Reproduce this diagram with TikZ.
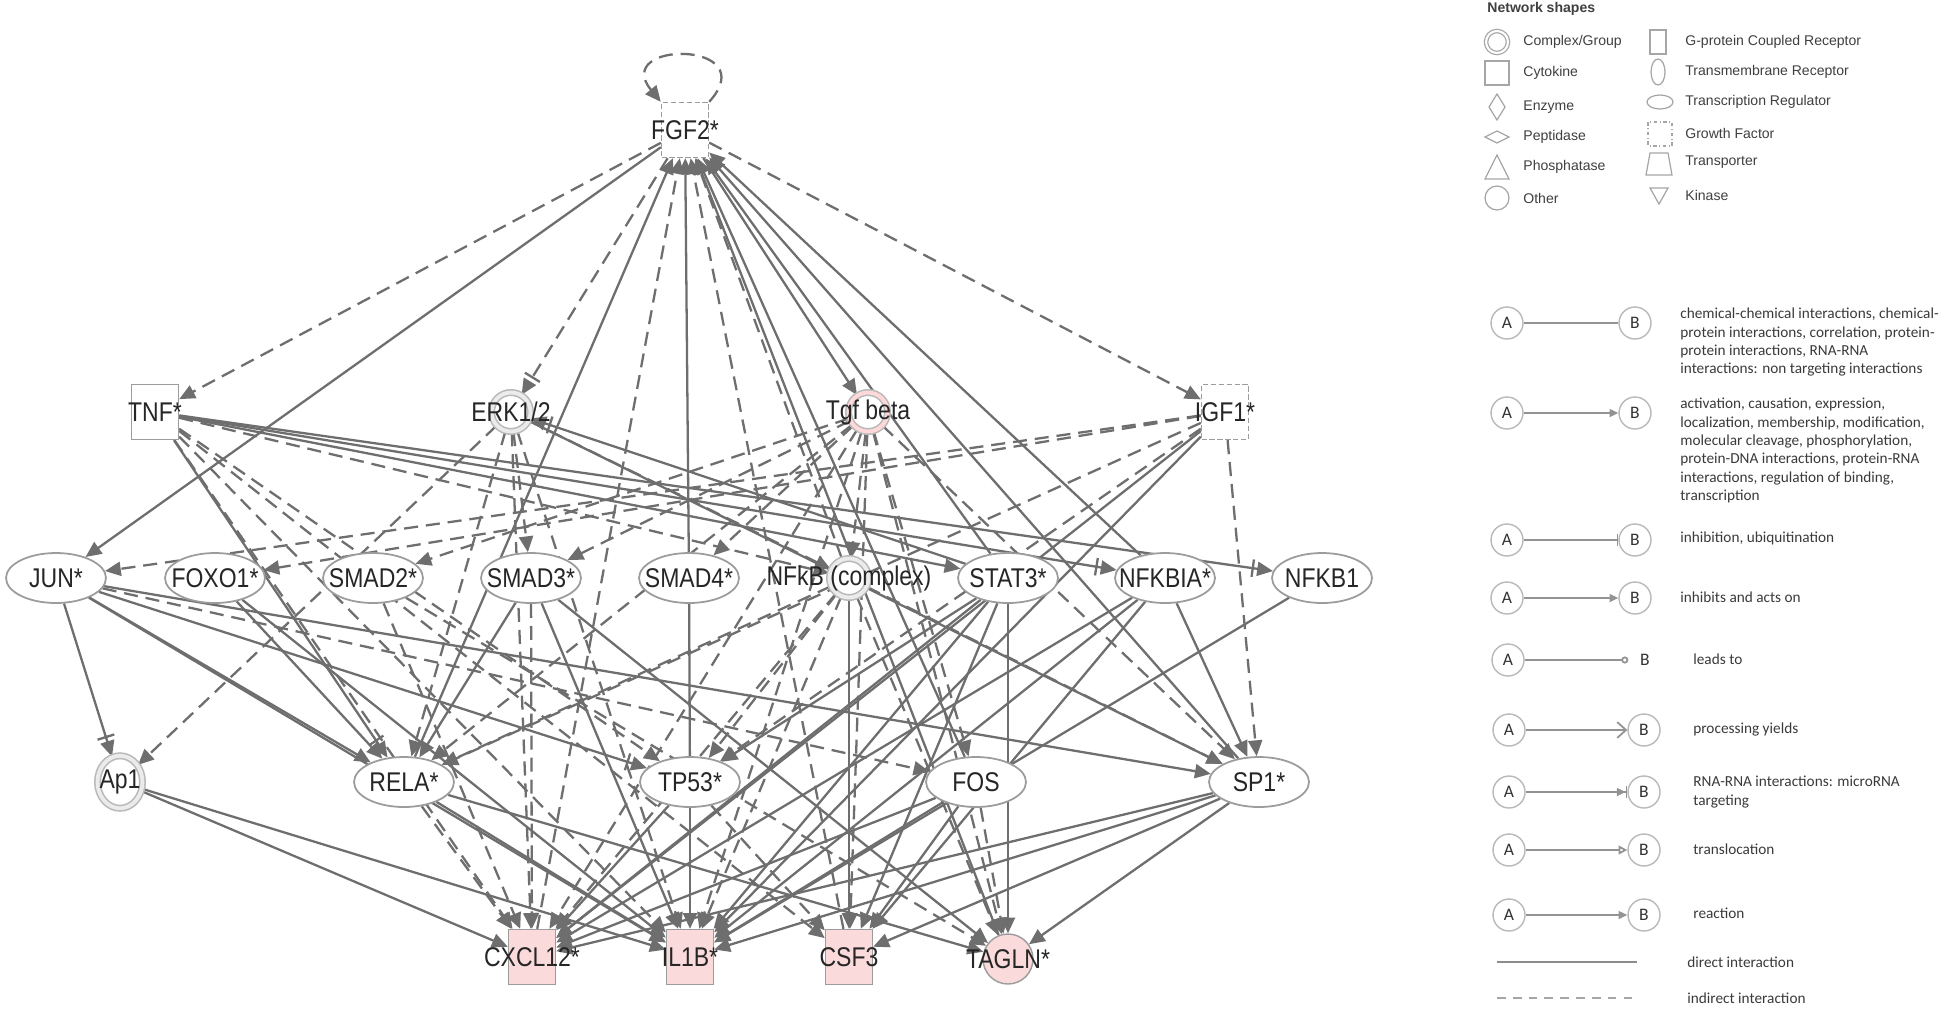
\documentclass[tikz,border=0pt]{standalone}
\usepackage{fontspec}
\setmainfont{Liberation Sans}
\newfontfamily\netfont[FakeStretch=0.85]{Liberation Sans}
\newfontfamily\legfont{Carlito}
\usetikzlibrary{arrows.meta,shapes.geometric}

\pgfdeclarelayer{bg}
\pgfdeclarelayer{edges}
\pgfsetlayers{bg,edges,main}

\definecolor{edgegray}{HTML}{6E6E6E}
\definecolor{nodegray}{HTML}{9C9C9C}
\definecolor{hitpink}{HTML}{FADADA}
\definecolor{legtext}{HTML}{3A3A3A}

\tikzset{
  direct/.style={draw=edgegray, line width=1.3pt},
  indirect/.style={direct, dash pattern=on 8pt off 4.5pt},
  act/.style={-{Triangle[length=9pt,width=8pt]}},
  inhact/.style={-{Bar[width=10pt,sep=2pt] Triangle[length=9pt,width=8pt]}},
  genetext/.style={font=\netfont\fontsize{15.4}{18}\selectfont, text=black!85, inner sep=0pt},
  gene/.style={label={[genetext]center:#1}},
  tf/.style={ellipse, draw=nodegray, line width=1pt, fill=white, minimum width=2cm, minimum height=1cm, inner sep=0pt},
  cytokine/.style={rectangle, draw=nodegray, line width=0.8pt, fill=white, minimum width=0.94cm, minimum height=1.1cm, inner sep=0pt},
  growth/.style={cytokine, dash pattern=on 3pt off 1.5pt},
  cplx/.style={circle, draw=gray!55, line width=0.9pt, double=black!8, double distance=2.2pt, fill=white, minimum size=0.78cm, inner sep=0pt},
  other/.style={circle, draw=nodegray, line width=0.8pt, minimum size=1cm, inner sep=0pt},
  legtxt/.style={font=\legfont\fontsize{8.7}{10.4}\selectfont, text=legtext, align=left, inner sep=0pt},
  shapetxt/.style={font=\fontsize{8}{9}\selectfont, text=black!75, anchor=west, inner sep=0pt},
  icon/.style={draw=gray!70, line width=0.7pt},
  abcirc/.style={circle, draw=gray!55, line width=0.8pt, minimum size=0.64cm, inner sep=0pt, font=\legfont\fontsize{10}{12}\selectfont, text=black!80},
  legline/.style={draw=gray!85, line width=1pt},
  smalltip/.style={-{Triangle[length=5pt,width=4.5pt]}}
}

\begin{document}
\begin{tikzpicture}[x=0.02cm, y=-0.02cm]
\begin{pgfonlayer}{bg}
  \fill[white] (0,0) rectangle (1946,1008);
\end{pgfonlayer}
\useasboundingbox (0,0) rectangle (1946,1008);

    % Top hub
    \node[growth, gene=FGF2*] (fgf) at (685,130) {};

    % Second layer
    \node[cytokine, gene=TNF*] (tnf) at (155,412) {};
    \node[cplx, gene=ERK1/2] (erk) at (511,412) {};
    \node[cplx, double=red!15, gene=Tgf beta] (tgf) at (868,412) {};
    \node[growth, gene=IGF1*] (igf) at (1225,412) {};

    % Transcription regulators
    \node[tf, gene=JUN*] (jun) at (56,578) {};
    \node[tf, gene=FOXO1*] (foxo) at (215,578) {};
    \node[tf, gene=SMAD2*] (smadtwo) at (373,578) {};
    \node[tf, gene=SMAD3*] (smadthree) at (531,578) {};
    \node[tf, gene=SMAD4*] (smadfour) at (689,578) {};
    \node[cplx, gene=NFkB (complex)] (nfkb) at (849,578) {};
    \node[tf, gene=STAT3*] (stat) at (1008,578) {};
    \node[tf, gene=NFKBIA*] (nfkbia) at (1165,578) {};
    \node[tf, gene=NFKB1] (nfkbone) at (1322,578) {};

    % Fourth layer
    \node[ellipse, draw=gray!55, line width=0.9pt, double=black!8, double distance=2.2pt, fill=white, minimum width=0.9cm, minimum height=1.05cm, inner sep=0pt, gene=Ap1] (apone) at (120,782) {};
    \node[tf, gene=RELA*] (rela) at (404,782) {};
    \node[tf, gene=TP53*] (tp) at (690,782) {};
    \node[tf, gene=FOS] (fos) at (976,782) {};
    \node[tf, gene=SP1*] (sp) at (1259,782) {};

    % Targets
    \node[cytokine, fill=hitpink, gene=CXCL12*] (cxcl) at (532,957) {};
    \node[cytokine, fill=hitpink, gene=IL1B*] (il) at (690,957) {};
    \node[cytokine, fill=hitpink, gene=CSF3] (csf) at (849,957) {};
    \node[other, fill=hitpink, gene=TAGLN*] (tagln) at (1008,959) {};

\begin{pgfonlayer}{edges}
    % FGF2
    \draw[indirect, act] (fgf.north east) .. controls (765,40) and (610,40) .. (fgf.north west);
    \draw[indirect, act] (fgf) -- (tnf);
    \draw[direct, act] (fgf) -- (jun);
    \draw[indirect, inhact] (fgf) -- (erk);
    \draw[direct, act] (fgf) -- (tgf);
    \draw[indirect, act] (fgf) -- (igf);
    \draw[direct, act] (rela) -- (fgf);
    \draw[indirect, act] (cxcl) -- (fgf);
    \draw[direct, act] (smadfour) -- (fgf);
    \draw[indirect, act] (csf) -- (fgf);
    \draw[indirect, act] (nfkb) -- (fgf);
    \draw[direct, act] (tagln) -- (fgf);
    \draw[direct, act] (fos) -- (fgf);
    \draw[direct, act] (stat) -- (fgf);
    \draw[direct, act] (nfkbia) -- (fgf);
    \draw[direct, act] (sp) -- (fgf);

    % TNF
    \draw[direct, act] (tnf) -- (stat);
    \draw[direct, inhact] (tnf) -- (nfkbia);
    \draw[direct, inhact] (tnf) -- (nfkbone);
    \draw[indirect, act] (tnf) -- (nfkb);
    \draw[direct, inhact] (tnf) -- (rela);
    \draw[indirect, act] (tnf) -- (tp);
    \draw[indirect, act] (tnf) -- (cxcl);
    \draw[indirect, act] (tnf) -- (il);
    \draw[indirect, act] (tnf) -- (csf);

    % ERK1/2
    \draw[indirect, act] (erk) -- (apone);
    \draw[indirect, act] (erk) -- (smadthree);
    \draw[indirect, act] (erk) -- (rela);
    \draw[indirect, act] (erk) -- (cxcl);
    \draw[indirect, act] (erk) -- (il);
    \draw[indirect, act] (erk) -- (nfkb);
    \draw[direct, act] (erk) -- (sp);
    \draw[direct, inhact] (stat) -- (erk);

    % Tgf beta
    \draw[indirect, act] (tgf) -- (smadtwo);
    \draw[indirect, act] (tgf) -- (smadthree);
    \draw[indirect, act] (tgf) -- (smadfour);
    \draw[indirect, act] (tgf) -- (nfkb);
    \draw[indirect, act] (tgf) -- (rela);
    \draw[indirect, act] (tgf) -- (cxcl);
    \draw[indirect, act] (tgf) -- (il);
    \draw[indirect, act] (tgf) -- (csf);
    \draw[indirect, act] (tgf) -- (tagln);
    \draw[indirect, act] (tgf) -- (fos);
    \draw[indirect, act] (tgf) -- (sp);

    % IGF1
    \draw[indirect, act] (igf) -- (jun);
    \draw[indirect, act] (igf) -- (foxo);
    \draw[indirect, act] (igf) -- (rela);
    \draw[indirect, act] (igf) -- (tp);
    \draw[indirect, act] (igf) -- (sp);
    \draw[direct, act] (igf) -- (cxcl);
    \draw[direct, act] (igf) -- (il);

    % JUN and FOXO1
    \draw[direct, inhact] (jun) -- (apone);
    \draw[direct, act] (jun) -- (rela);
    \draw[direct, inhact] (jun) -- (tp);
    \draw[indirect, act] (jun) -- (fos);
    \draw[direct, act] (jun) -- (sp);
    \draw[direct, act] (jun) -- (il);
    \draw[direct, act] (foxo) -- (rela);
    \draw[direct, act] (foxo) -- (il);

    % SMADs
    \draw[indirect, act] (smadtwo) -- (cxcl);
    \draw[indirect, act] (smadtwo) -- (tagln);
    \draw[direct, act] (smadthree) -- (rela);
    \draw[indirect, act] (smadthree) -- (cxcl);
    \draw[direct, act] (smadthree) -- (il);
    \draw[direct, act] (smadthree) -- (tagln);
    \draw[direct] (smadfour) -- (tp);

    % NFkB (complex)
    \draw[indirect, act] (nfkb) -- (rela);
    \draw[indirect, act] (nfkb) -- (tp);
    \draw[indirect, act] (nfkb) -- (cxcl);
    \draw[indirect, act] (nfkb) -- (il);
    \draw[direct, act] (nfkb) -- (csf);
    \draw[indirect, act] (nfkb) -- (sp);
    \draw[indirect, act] (nfkb) -- (tagln);

    % STAT3, NFKBIA, NFKB1
    \draw[direct, act] (stat) -- (tp);
    \draw[direct, act] (stat) -- (cxcl);
    \draw[direct, act] (stat) -- (il);
    \draw[direct, act] (stat) -- (csf);
    \draw[direct, act] (stat) -- (tagln);
    \draw[direct, act] (nfkbia) -- (sp);
    \draw[direct, act] (nfkbia) -- (cxcl);
    \draw[direct, act] (nfkbia) -- (il);
    \draw[direct, act] (nfkbia) -- (csf);
    \draw[direct, act] (nfkbone) -- (il);

    % Fourth layer to targets
    \draw[direct, act] (apone) -- (cxcl);
    \draw[direct, act] (apone) -- (il);
    \draw[indirect, act] (rela) -- (cxcl);
    \draw[direct, act] (rela) -- (il);
    \draw[direct, act] (rela) -- (tagln);
    \draw[direct, act] (tp) -- (il);
    \draw[direct, act] (tp) -- (cxcl);
    \draw[indirect, act] (tp) -- (csf);
    \draw[direct, act] (fos) -- (cxcl);
    \draw[direct, act] (fos) -- (il);
    \draw[direct, act] (fos) -- (csf);
    \draw[indirect, act] (fos) -- (tagln);
    \draw[direct, act] (sp) -- (cxcl);
    \draw[direct, act] (sp) -- (il);
    \draw[direct, act] (sp) -- (csf);
    \draw[direct, act] (sp) -- (tagln);
\end{pgfonlayer}

    % Legend: network shapes
    \node[shapetxt, font=\bfseries\fontsize{8}{9}\selectfont] (shapehead) at (1487,9) {Network shapes};
    \draw[icon, double=white, double distance=1.2pt] (1497,42) circle[radius=0.22cm];
    \draw[icon] (1485,61) rectangle (1509,85);
    \draw[icon] (1497,94) -- (1505,107) -- (1497,120) -- (1489,107) -- cycle;
    \draw[icon] (1485,137) -- (1497,131) -- (1509,137) -- (1497,143) -- cycle;
    \draw[icon] (1485,179) -- (1497,155) -- (1509,179) -- cycle;
    \draw[icon] (1497,198) circle[radius=0.24cm];
    \node[shapetxt] (lcomplex) at (1523,42) {Complex/Group};
    \node[shapetxt] (lcytokine) at (1523,73) {Cytokine};
    \node[shapetxt] (lenzyme) at (1523,107) {Enzyme};
    \node[shapetxt] (lpeptidase) at (1523,137) {Peptidase};
    \node[shapetxt] (lphosphatase) at (1523,167) {Phosphatase};
    \node[shapetxt] (lother) at (1523,198) {Other};
    \draw[icon] (1650,30) rectangle (1666,54);
    \draw[icon] (1658,72) ellipse[x radius=0.14cm, y radius=0.26cm];
    \draw[icon] (1660,102) ellipse[x radius=0.26cm, y radius=0.14cm];
    \draw[icon, dash pattern=on 2pt off 1.5pt on 0.5pt off 1.5pt] (1648,122) rectangle (1672,146);
    \draw[icon] (1650,153) -- (1668,153) -- (1672,175) -- (1646,175) -- cycle;
    \draw[icon] (1650,188) -- (1668,188) -- (1659,204) -- cycle;
    \node[shapetxt] (lgpcr) at (1685,42) {G-protein Coupled Receptor};
    \node[shapetxt] (ltmr) at (1685,72) {Transmembrane Receptor};
    \node[shapetxt] (ltr) at (1685,102) {Transcription Regulator};
    \node[shapetxt] (lgf) at (1685,133) {Growth Factor};
    \node[shapetxt] (ltransp) at (1685,162) {Transporter};
    \node[shapetxt] (lkinase) at (1685,195) {Kinase};

    % Legend: interaction types
    \node[abcirc] (aone) at (1507,323) {A};
    \node[abcirc] (bone) at (1635,323) {B};
    \draw[legline] (aone) -- (bone);
    \node[legtxt, anchor=north west] (tone) at (1680,308) {chemical-chemical interactions, chemical-\\protein interactions, correlation, protein-\\protein interactions, RNA-RNA\\interactions: non targeting interactions};

    \node[abcirc] (atwo) at (1507,413) {A};
    \node[abcirc] (btwo) at (1635,413) {B};
    \draw[legline, smalltip] (atwo) -- (btwo);
    \node[legtxt, anchor=north west] (ttwo) at (1680,398) {activation, causation, expression,\\localization, membership, modification,\\molecular cleavage, phosphorylation,\\protein-DNA interactions, protein-RNA\\interactions, regulation of binding,\\transcription};

    \node[abcirc] (athree) at (1507,540) {A};
    \node[abcirc] (bthree) at (1635,540) {B};
    \draw[legline, -{Bar[width=7pt]}] (athree) -- (bthree);
    \node[legtxt, anchor=west] (tthree) at (1680,538) {inhibition, ubiquitination};

    \node[abcirc] (afour) at (1507,598) {A};
    \node[abcirc] (bfour) at (1635,598) {B};
    \draw[legline, smalltip] (afour) -- (bfour);
    \node[legtxt, anchor=west] (tfour) at (1680,597) {inhibits and acts on};

    \node[abcirc] (afive) at (1508,660) {A};
    \node[abcirc, draw=none] (bfive) at (1645,660) {B};
    \draw[legline, -{Circle[open,length=4pt]}] (afive) -- (bfive);
    \node[legtxt, anchor=west] (tfive) at (1693,659) {leads to};

    \node[abcirc] (asix) at (1509,730) {A};
    \node[abcirc] (bsix) at (1644,730) {B};
    \draw[legline, -{Straight Barb[length=5pt,width=9pt]}] (asix) -- (bsix);
    \node[legtxt, anchor=west] (tsix) at (1693,729) {processing yields};

    \node[abcirc] (aseven) at (1509,792) {A};
    \node[abcirc] (bseven) at (1644,792) {B};
    \draw[legline, -{Triangle[length=5pt,width=4.5pt] Bar[width=7pt]}] (aseven) -- (bseven);
    \node[legtxt, anchor=north west] (tseven) at (1693,776) {RNA-RNA interactions: microRNA\\targeting};

    \node[abcirc] (aeight) at (1509,850) {A};
    \node[abcirc] (beight) at (1644,850) {B};
    \draw[legline, -{Triangle[open,length=5pt,width=5pt]}] (aeight) -- (beight);
    \node[legtxt, anchor=west] (teight) at (1693,849) {translocation};

    \node[abcirc] (anine) at (1509,915) {A};
    \node[abcirc] (bnine) at (1644,915) {B};
    \draw[legline, smalltip] (anine) -- (bnine);
    \node[legtxt, anchor=west] (tnine) at (1693,913) {reaction};

    \draw[draw=gray!90, line width=1.6pt] (1497,962) -- (1637,962);
    \node[legtxt, anchor=west] (tdirect) at (1687,962) {direct interaction};
    \draw[draw=gray!70, line width=1.6pt, dash pattern=on 5pt off 4pt] (1497,998) -- (1637,998);
    \node[legtxt, anchor=west] (tindirect) at (1687,998) {indirect interaction};
\end{tikzpicture}
\end{document}
